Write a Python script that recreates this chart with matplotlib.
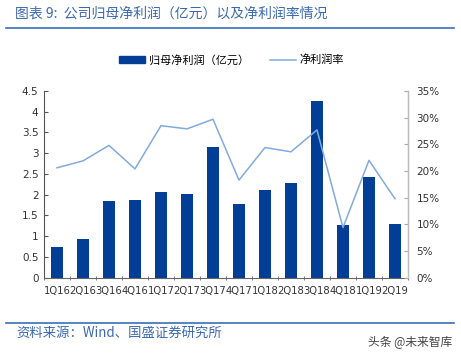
import numpy as np
import matplotlib.pyplot as plt
from matplotlib.lines import Line2D
from matplotlib.patches import Patch

plt.rcParams['font.family'] = ['DejaVu Sans', 'Noto Sans CJK SC']

quarters = ["1Q16", "2Q16", "3Q16", "4Q16", "1Q17", "2Q17", "3Q17",
            "4Q17", "1Q18", "2Q18", "3Q18", "4Q18", "1Q19", "2Q19"]
profit = [0.75, 0.94, 1.84, 1.88, 2.06, 2.02, 3.15,
          1.77, 2.11, 2.29, 4.27, 1.27, 2.43, 1.29]
margin = [20.6, 21.9, 24.8, 20.4, 28.5, 27.9, 29.7,
          18.3, 24.4, 23.6, 27.7, 9.4, 22.0, 14.8]

bar_color = "#023E96"
line_color = "#82AADD"
blue_text = "#3A69B2"
cjk = ['Noto Sans CJK SC', 'DejaVu Sans']

fig = plt.figure(figsize=(4.61, 3.55), dpi=100)
ax = fig.add_axes([0.0954, 0.2177, 0.7896, 0.526])
ax2 = ax.twinx()

x = np.arange(len(quarters))
ax.bar(x, profit, width=0.46, color=bar_color, zorder=2)
ax2.plot(x, margin, color=line_color, lw=1.1)

ax.set_xlim(-0.5, len(quarters) - 0.5)
ax.set_ylim(0, 4.5)
ax2.set_ylim(0, 35)

yt = np.arange(0, 4.51, 0.5)
ax.set_yticks(yt)
ax.set_yticklabels([("%g" % v) for v in yt], fontsize=7.5, color="#333333")
yt2 = np.arange(0, 36, 5)
ax2.set_yticks(yt2)
ax2.set_yticklabels(["%d%%" % v for v in yt2], fontsize=7.5, color="#333333")

ax.set_xticks(x)
ax.set_xticklabels(quarters, fontsize=7.2, color="#333333")
ax.tick_params(axis='x', length=0, pad=6)
ax.set_xticks(np.arange(-0.5, len(quarters), 1), minor=True)
ax.tick_params(axis='x', which='minor', length=3, direction='inout', color="#666666")
ax.tick_params(axis='y', direction='in', length=3, color="#555555", pad=4)
ax2.tick_params(axis='y', direction='in', length=3, color="#AAAAAA", pad=6)

for a in (ax, ax2):
    a.spines['top'].set_visible(False)
ax.spines['left'].set_color("#555555")
ax.spines['bottom'].set_color("#666666")
ax2.spines['left'].set_visible(False)
ax2.spines['bottom'].set_visible(False)
ax2.spines['right'].set_color("#BBBBBB")

# legend
handles = [Patch(color=bar_color), Line2D([], [], color=line_color, lw=1.1)]
fig.legend(handles, ["归母净利润（亿元）", "净利润率"], loc='center',
           bbox_to_anchor=(0.502, 0.831), ncol=2, frameon=False,
           prop={'family': cjk, 'size': 8}, handlelength=2.4,
           handleheight=0.5, columnspacing=1.9, handletextpad=0.3)

# title and source
fig.text(0.033, 0.962, "图表 9:  公司归母净利润（亿元）以及净利润率情况",
         family=cjk, fontsize=10, color=blue_text, va='center')
fig.add_artist(Line2D([0.013, 0.985], [0.921, 0.921], color="#3A6FB8", lw=1.2))
fig.add_artist(Line2D([0.013, 0.985], [0.09, 0.09], color="#3A6FB8", lw=1.2))
fig.text(0.036, 0.062, "资料来源：Wind、国盛证券研究所", family=cjk,
         fontsize=9.6, color=blue_text, va='center')
fig.text(0.981, 0.035, "头条 @未来智库", family=cjk, fontsize=8.5,
         color="#444444", ha='right', va='center')

fig.savefig("out.png", dpi=100)
